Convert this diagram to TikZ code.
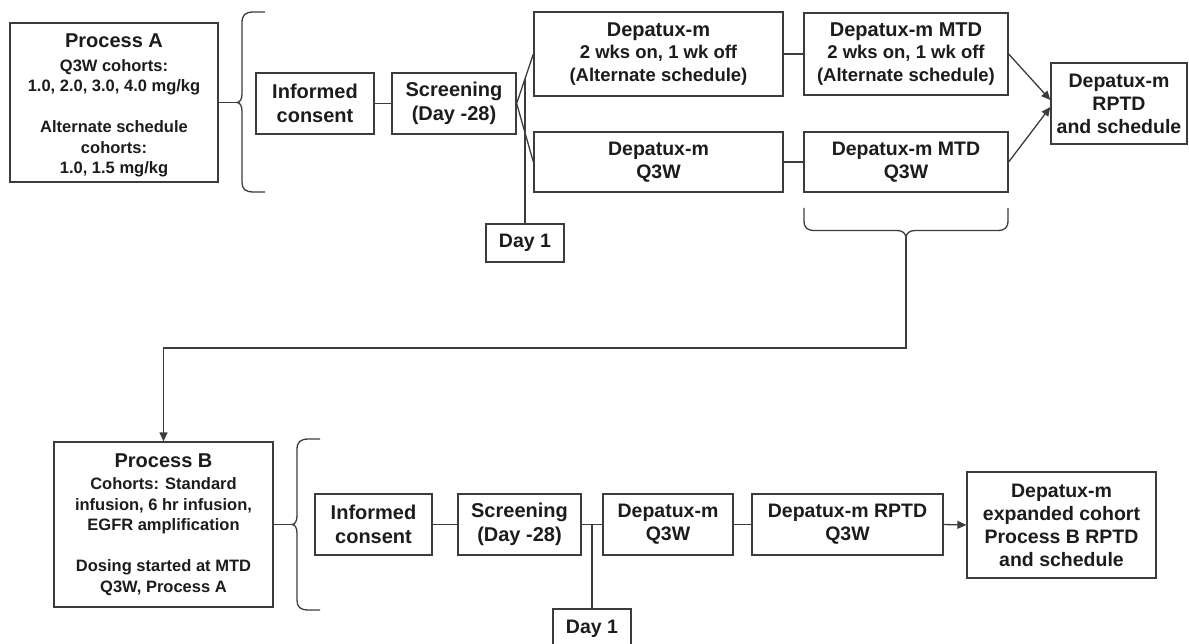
\documentclass[tikz,border=0pt]{standalone}
\usepackage{fontspec}
\setmainfont{Liberation Sans}
\usetikzlibrary{arrows.meta,calc}
\definecolor{linec}{HTML}{3C3C3C}
\definecolor{textc}{HTML}{1C1C1C}
\begin{document}
\begin{tikzpicture}[x=1pt,y=-1pt,
  box/.style={draw=linec, line width=1.3pt, fill=white, inner sep=0pt, align=center, text=textc, font=\bfseries\fontsize{19.5}{23}\selectfont},
  sidebox/.style={box, font=\bfseries\fontsize{16.5}{20.5}\selectfont},
  twobox/.style={box, font=\bfseries\fontsize{20}{24.5}\selectfont},
  conn/.style={draw=linec, line width=1.3pt},
  arr/.style={conn, -{Triangle[length=9pt,width=8pt]}},
  brc/.style={draw=linec, line width=1.3pt}]
\fill[white] (0,0) rectangle (1189,644);
\useasboundingbox (0,0) rectangle (1189,644);

% ---------- Process A row ----------
\node[sidebox, minimum width=208pt, minimum height=159pt] (pa) at (114,102.5)
  {{\fontsize{20}{22}\selectfont\rule{0pt}{20pt}Process A}\\[3pt]Q3W cohorts:\\1.0, 2.0, 3.0, 4.0 mg/kg\\[20.5pt]Alternate schedule\\cohorts:\\1.0, 1.5 mg/kg};
\node[twobox, minimum width=118pt, minimum height=61pt] (ic1) at (315,103.5) {Informed\\consent};
\node[twobox, minimum width=124pt, minimum height=61pt] (sc1) at (454,103.5) {Screening\\(Day -28)};
\node[box, minimum width=249pt, minimum height=84pt, font=\bfseries\fontsize{18.5}{22.5}\selectfont] (d1t) at (658.5,54)
  {{\fontsize{20}{22.5}\selectfont Depatux-m}\\2 wks on, 1 wk off\\(Alternate schedule)};
\node[box, minimum width=249pt, minimum height=60pt] (d1b) at (658.5,162) {Depatux-m\\Q3W};
\node[box, minimum width=204pt, minimum height=82pt, font=\bfseries\fontsize{18.5}{22.5}\selectfont] (m1t) at (906,54)
  {{\fontsize{20}{22.5}\selectfont Depatux-m MTD}\\2 wks on, 1 wk off\\(Alternate schedule)};
\node[box, minimum width=204pt, minimum height=60pt] (m1b) at (906,162) {Depatux-m MTD\\Q3W};
\node[box, minimum width=136pt, minimum height=81pt] (rp) at (1119,103.5) {Depatux-m\\RPTD\\and schedule};
\node[box, minimum width=78pt, minimum height=38pt] (day1a) at (525,243) {Day 1};

% ---------- Process B row ----------
\node[sidebox, minimum width=219pt, minimum height=165pt] (pb) at (163.5,524.5)
  {{\fontsize{20}{22}\selectfont Process B}\\[2pt]Cohorts: Standard\\infusion, 6 hr infusion,\\EGFR amplification\\[20.5pt]Dosing started at MTD\\Q3W, Process A};
\node[twobox, minimum width=117pt, minimum height=61pt] (ic2) at (373.5,524.5) {Informed\\consent};
\node[twobox, minimum width=123pt, minimum height=61pt] (sc2) at (519.5,524.5) {Screening\\(Day -28)};
\node[box, minimum width=130pt, minimum height=61pt] (dq) at (668,524.5) {Depatux-m\\Q3W};
\node[box, minimum width=191pt, minimum height=61pt] (dr) at (847.5,524.5) {Depatux-m RPTD\\Q3W};
\node[box, minimum width=189pt, minimum height=106pt] (fin) at (1061.5,525) {Depatux-m\\expanded cohort\\Process B RPTD\\and schedule};
\node[box, minimum width=78pt, minimum height=39pt] (day1b) at (592,628.5) {Day 1};

% ---------- braces ----------
\coordinate (braTip) at (237,102.5);
\draw[brc] (265,12) -- (254,12) .. controls (245,12) and (242,15) .. (242,23) -- (242,94)
  .. controls (242,99) and (240,102.5) .. (braTip)
  .. controls (240,102.5) and (242,106) .. (242,111) -- (242,182)
  .. controls (242,189) and (245,192) .. (254,192) -- (265,192);

\coordinate (brbTip) at (292,524.5);
\draw[brc] (320,439) -- (309,439) .. controls (300,439) and (297,442) .. (297,450) -- (297,516)
  .. controls (297,521) and (295,524.5) .. (brbTip)
  .. controls (295,524.5) and (297,528) .. (297,533) -- (297,600)
  .. controls (297,607) and (300,610) .. (309,610) -- (320,610);

\coordinate (brcTip) at (906,238);
\draw[brc] (804,208) -- (804,220) .. controls (804,228) and (807,230.5) .. (815,230.5) -- (897,230.5)
  .. controls (902,230.5) and (906,233) .. (brcTip)
  .. controls (906,233) and (910,230.5) .. (915,230.5) -- (997,230.5)
  .. controls (1005,230.5) and (1008,228) .. (1008,220) -- (1008,208);

% ---------- connectors, Process A ----------
\draw[conn] (pa.east) -- (braTip);
\draw[conn] (ic1.east) -- (sc1.west);
\draw[conn] (sc1.east) -- (d1t.west);
\draw[conn] (sc1.east) -- (d1b.west);
\coordinate (spl1) at ($(sc1.east)!0.5!(d1t.west)$);
\draw[conn] (spl1) -- (day1a.north);
\draw[conn] (d1t.east) -- (m1t.west);
\draw[conn] (d1b.east) -- (m1b.west);
\coordinate (rpin1) at ($(rp.west)+(0,-3.5)$);
\coordinate (rpin2) at ($(rp.west)+(0,3.5)$);
\draw[arr] (m1t.east) -- (rpin1);
\draw[arr] (m1b.east) -- (rpin2);

% ---------- link to Process B ----------
\coordinate (turn1) at (906,348);
\coordinate (turn2) at (163.5,348);
\draw[arr] (brcTip) -- (turn1) -- (turn2) -- (pb.north);

% ---------- connectors, Process B ----------
\draw[conn] (pb.east) -- (brbTip);
\draw[conn] (ic2.east) -- (sc2.west);
\draw[conn] (sc2.east) -- (dq.west);
\coordinate (spl2) at ($(sc2.east)!0.5!(dq.west)$);
\draw[conn] (spl2) -- (day1b.north);
\draw[conn] (dq.east) -- (dr.west);
\draw[arr] (dr.east) -- (fin.west);
\end{tikzpicture}
\end{document}
